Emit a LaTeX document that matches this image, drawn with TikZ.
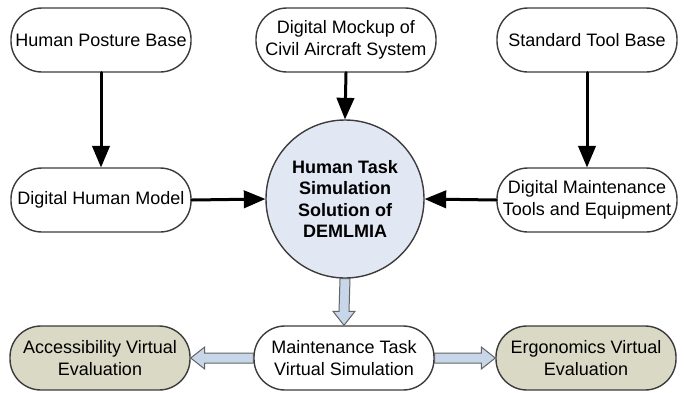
\documentclass[tikz,border=0pt]{standalone}
\usepackage{fontspec}
\setmainfont{Liberation Sans}
\usepackage{xcolor}
\usepackage{tikz}
\usetikzlibrary{arrows,calc}

\definecolor{circfill}{RGB}{226,232,243}
\definecolor{evalfill}{RGB}{217,217,197}
\definecolor{blockfill}{RGB}{200,214,234}
\definecolor{edgegray}{RGB}{60,60,60}

\begin{document}
\begin{tikzpicture}[line cap=round,line join=round,>=triangle 45,x=0.5pt,y=-0.5pt,
	term/.style={draw=edgegray,line width=0.7pt,rounded corners=15.5pt,minimum width=90pt,minimum height=32pt,align=center,font=\fontsize{9}{10.8}\selectfont,inner sep=1pt},
	evalbox/.style={term,fill=evalfill},
	flow/.style={->,line width=1.5pt,black},
	blockarrow/.style={draw=edgegray!80,line width=0.5pt,fill=blockfill,line join=miter}]
		\useasboundingbox (0,0) rectangle (684,392);
		% top row
		\node[term] (posture) at (101,40) {Human Posture Base};
		\node[term] (mockup) at (346,40) {Digital Mockup of\\Civil Aircraft System};
		\node[term] (toolbase) at (587,40) {Standard Tool Base};
		% middle row
		\node[term] (dhm) at (101,200) {Digital Human Model};
		\node[term] (dmt) at (587,200) {Digital Maintenance\\Tools and Equipment};
		\node[draw=edgegray,line width=0.7pt,fill=circfill,circle,minimum size=79pt,inner sep=0pt,align=center,font=\fontsize{9}{10.8}\selectfont\bfseries] (sim) at (345,199) {Human Task\\Simulation\\Solution of\\DEMLMIA};
		% bottom row
		\node[term] (task) at (344,358) {Maintenance Task\\Virtual Simulation};
		\node[evalbox] (access) at (100,358) {Accessibility Virtual\\Evaluation};
		\node[evalbox] (ergo) at (586,358) {Ergonomics Virtual\\Evaluation};
		% connectors
		\draw[flow] (posture.south) -- (dhm.north);
		\draw[flow] (mockup.south) -- (sim.north);
		\draw[flow] (toolbase.south) -- (dmt.north);
		\draw[flow] (dhm.east) -- (sim.west);
		\draw[flow] (dmt.west) -- (sim.east);
		% hollow arrows
		\draw[blockarrow] ($(sim.south)+(-5,0)$) -- ($(task.north)+(-5,-14)$) -- ($(task.north)+(-11,-14)$) -- (task.north)
			-- ($(task.north)+(11,-14)$) -- ($(task.north)+(5,-14)$) -- ($(sim.south)+(5,0)$) -- cycle;
		\draw[blockarrow] ($(task.west)+(0,-5)$) -- ($(access.east)+(14,-5)$) -- ($(access.east)+(14,-11)$) -- (access.east)
			-- ($(access.east)+(14,11)$) -- ($(access.east)+(14,5)$) -- ($(task.west)+(0,5)$) -- cycle;
		\draw[blockarrow] ($(task.east)+(0,-5)$) -- ($(ergo.west)+(-14,-5)$) -- ($(ergo.west)+(-14,-11)$) -- (ergo.west)
			-- ($(ergo.west)+(-14,11)$) -- ($(ergo.west)+(-14,5)$) -- ($(task.east)+(0,5)$) -- cycle;
	\end{tikzpicture}
\end{document}
